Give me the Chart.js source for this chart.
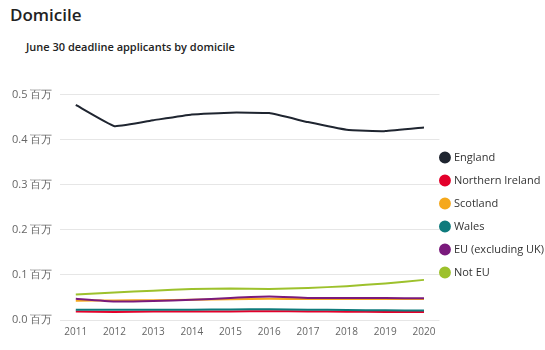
<!DOCTYPE html>
<html>
<head>
<meta charset="utf-8">
<script src="https://cdn.jsdelivr.net/npm/chart.js@4/dist/chart.umd.min.js"></script>
<style>
  body { margin: 0; background: #fff; font-family: "Open Sans", sans-serif; }
  #wrap { position: relative; width: 545px; height: 350px; }
  h1 { position: absolute; left: 10px; top: 3px; margin: 0; font-size: 17px; font-weight: 600; color: #222; }
  h2 { position: absolute; left: 26px; top: 39px; margin: 0; font-size: 11px; font-weight: 600; color: #222; }
  #chartBox { position: absolute; left: 0; top: 80px; width: 545px; height: 270px; }
</style>
</head>
<body>
<div id="wrap">
  <h1>Domicile</h1>
  <h2>June 30 deadline applicants by domicile</h2>
  <div id="chartBox"><canvas id="chart"></canvas></div>
</div>
<script>
// chart data
const years = [2011, 2012, 2013, 2014, 2015, 2016, 2017, 2018, 2019, 2020];
const england = [477000, 430000, 443000, 456000, 460000, 459000, 439000, 422000, 419000, 427000];
const northernIreland = [18600, 18000, 18800, 19000, 19000, 19500, 19000, 18500, 18000, 17500];
const scotland = [42500, 43500, 44000, 45000, 46000, 47000, 46500, 46500, 46500, 46500];
const wales = [23000, 22500, 22500, 23000, 23500, 24000, 23000, 22000, 21500, 21000];
const eu = [47000, 41000, 42000, 44700, 49000, 52000, 49000, 49000, 49000, 48000];
const notEU = [56600, 61000, 65000, 68600, 70000, 69000, 71000, 75000, 81000, 89000];
const yTicks = [0, 100000, 200000, 300000, 400000, 500000];

function series(label, data, color, order) {
    return {
        label: label,
        data: data.map((v, i) => ({ x: years[i], y: v })),
        borderColor: color,
        backgroundColor: color,
        borderWidth: 2,
        pointRadius: 0,
        tension: 0.1,
        order: order
    };
}

// pull the legend a bit closer to the plot, like the original
const legendNudge = {
    id: 'legendNudge',
    afterLayout(chart) {
        chart.legend.left -= 10;
        chart.legend.right -= 10;
        chart.legend.top -= 3;
        chart.legend.bottom -= 3;
    }
};

const ctx = document.getElementById('chart').getContext('2d');
new Chart(ctx, {
    type: 'line',
    data: {
        datasets: [
            series('England', england, '#1f2530', 0),
            series('Northern Ireland', northernIreland, '#e3002b', 1),
            series('Scotland', scotland, '#f5a81c', 1),
            series('Wales', wales, '#0f7b7d', 0),
            series('EU (excluding UK)', eu, '#7a1a7c', 0),
            series('Not EU', notEU, '#9dc12c', 0)
        ]
    },
    plugins: [legendNudge],
    options: {
        responsive: true,
        maintainAspectRatio: false,
        animation: false,
        layout: { padding: { left: 4, right: -19, top: 12, bottom: 6 } },
        plugins: {
            legend: {
                position: 'right',
                labels: {
                    usePointStyle: true,
                    pointStyle: 'circle',
                    boxWidth: 7,
                    boxHeight: 7,
                    padding: 12,
                    color: '#333',
                    font: { family: 'Open Sans', size: 11 },
                    sort: (a, b) => a.datasetIndex - b.datasetIndex
                }
            },
            tooltip: { enabled: false }
        },
        scales: {
            x: {
                type: 'linear',
                min: 2010.6,
                max: 2020.4,
                afterBuildTicks: axis => { axis.ticks = years.map(v => ({ value: v })); },
                grid: { display: false, drawTicks: false },
                border: { display: false },
                ticks: {
                    color: '#666',
                    padding: 6,
                    font: { family: 'Open Sans', size: 10 },
                    maxRotation: 0,
                    callback: v => String(v)
                }
            },
            y: {
                min: 0,
                max: 500000,
                afterBuildTicks: axis => { axis.ticks = yTicks.map(v => ({ value: v })); },
                grid: { color: '#e6e6e6', drawTicks: false },
                border: { display: false },
                ticks: {
                    color: '#666',
                    padding: 8,
                    font: { family: 'Open Sans', size: 11 },
                    callback: v => (v / 1000000).toFixed(1) + ' 百万'
                }
            }
        }
    }
});
</script>
</body>
</html>
